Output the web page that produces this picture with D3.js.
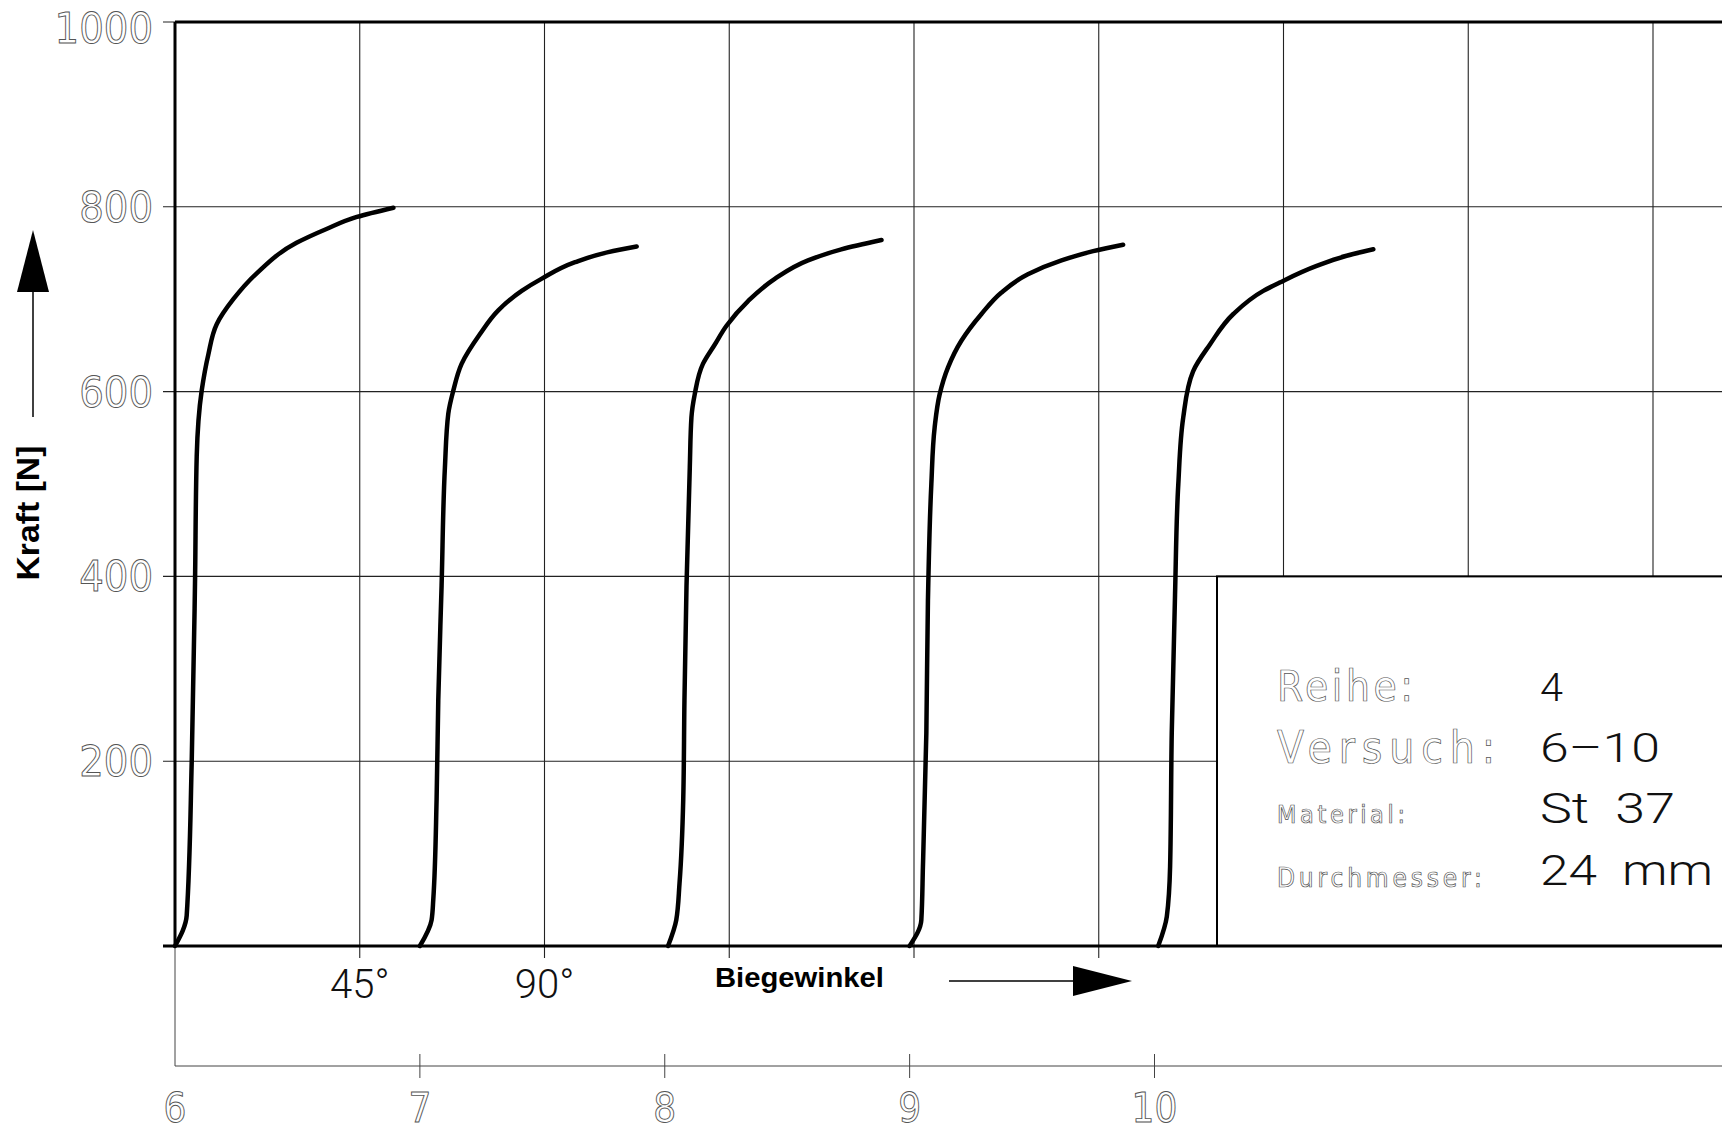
<!doctype html>
<html lang="de">
<head>
<meta charset="utf-8">
<title>Kraft / Biegewinkel – Reihe 4</title>
<script src="https://d3js.org/d3.v7.min.js"></script>
<style>
  body { margin: 0; background: #fff; }
  .plot { font-family: "Liberation Sans Narrow", "DejaVu Sans Condensed", "Liberation Sans", sans-serif; }
  .hollow { fill: #fff; stroke: #555; stroke-width: 0.9; }
  .thin { fill: #111; font-family: "Roboto", "Liberation Sans", sans-serif; font-weight: 300; }
  .bold { font-family: "Liberation Sans", Arial, sans-serif; font-weight: bold; fill: #000; }
</style>
</head>
<body>
<svg id="chart" width="1722" height="1132"></svg>
<script>
// force axis (N) and bend angle axis (deg)
const forceTicks = [200, 400, 600, 800, 1000];
const angleGrid = [45, 90, 135, 180, 225, 270, 315, 360];
const angleLabels = [45, 90];
const versuche = [6, 7, 8, 9, 10];

// each curve: [bend angle in deg measured from its Versuch tick, force in N]
const curve6 = [[0,0],[2.85,33],[4.07,199],[4.87,392],[5.29,530],[6.5,601],[8.11,640],[10.16,673],[14.2,700],[19.9,728],[29.6,761],[36.9,776],[44.3,789],[53.2,799]];
const curve7 = [[0,0],[2.85,28],[3.26,50],[4.07,158],[4.48,266],[5.29,390],[6.1,518],[6.92,576],[8.14,601],[10.16,630],[14.6,662],[19.1,688],[24.8,709],[29.6,722],[37.8,740],[45.9,751],[52.8,757]];
const curve8 = [[0.8,0],[2.8,28],[3.6,68],[4.5,158],[4.8,266],[5.3,390],[6.1,518],[6.5,572],[7.3,597],[9.3,630],[12.2,651],[15.0,671],[20.3,698],[26.8,722],[34.9,742],[43.0,754],[52.8,764]];
const curve9 = [[0,0],[2.85,28],[3.24,86],[4.07,230],[4.46,374],[5.29,500],[6.09,561],[7.31,597],[9.33,626],[12.6,655],[17.5,684],[22.3,707],[28.8,727],[37.0,742],[44.7,752],[52.0,759]];
const curve10 = [[0.9,0],[3.0,32],[3.8,86],[4.2,230],[5.0,380],[5.8,500],[7.0,572],[9.4,622],[13.5,651],[19.2,684],[26.5,709],[30.5,718],[39.5,736],[46.8,747],[53.3,754]];
const curves = [curve6, curve7, curve8, curve9, curve10];

const infoLabels = ["Reihe:", "Versuch:", "Material:", "Durchmesser:"];
const infoValues = ["4", "6–10", "St\u00a0\u00a037", "24\u00a0\u00a0mm"];

const W = 1722, H = 1132;
const svg = d3.select("#chart").attr("class", "plot");

const x = d3.scaleLinear().domain([0, 45]).range([175, 359.75]);
const y = d3.scaleLinear().domain([0, 1000]).range([946, 22]);
const xv = d3.scaleLinear().domain([6, 10]).range([175, 1154.5]);
const lowerY = 1066;
const boxLeft = 1217;

// grid
svg.append("g").selectAll("line").data(forceTicks.slice(0, 4)).join("line")
  .attr("x1", 163).attr("x2", W)
  .attr("y1", d => y(d)).attr("y2", d => y(d))
  .attr("stroke", "#222").attr("stroke-width", 1.1);
svg.append("g").selectAll("line").data(angleGrid).join("line")
  .attr("x1", d => x(d)).attr("x2", d => x(d))
  .attr("y1", y(1000))
  .attr("y2", d => x(d) < boxLeft ? y(0) + 12 : y(0))
  .attr("stroke", "#222").attr("stroke-width", 1.1);

// info box
svg.append("rect")
  .attr("x", boxLeft).attr("y", y(400))
  .attr("width", W - boxLeft + 10).attr("height", y(0) - y(400))
  .attr("fill", "#fff").attr("stroke", "#000").attr("stroke-width", 2);

// frame
svg.append("line").attr("x1", x(0)).attr("x2", W).attr("y1", y(1000)).attr("y2", y(1000))
  .attr("stroke", "#000").attr("stroke-width", 3);
svg.append("line").attr("x1", 163).attr("x2", x(0)).attr("y1", y(1000)).attr("y2", y(1000))
  .attr("stroke", "#222").attr("stroke-width", 1);
svg.append("line").attr("x1", x(0)).attr("x2", x(0)).attr("y1", y(1000)).attr("y2", y(0))
  .attr("stroke", "#000").attr("stroke-width", 3);
svg.append("line").attr("x1", 163).attr("x2", W).attr("y1", y(0)).attr("y2", y(0))
  .attr("stroke", "#000").attr("stroke-width", 3);

// lower Versuch axis
svg.append("line").attr("x1", x(0)).attr("x2", x(0)).attr("y1", y(0)).attr("y2", lowerY)
  .attr("stroke", "#444").attr("stroke-width", 1);
svg.append("line").attr("x1", xv(6)).attr("x2", W).attr("y1", lowerY).attr("y2", lowerY)
  .attr("stroke", "#444").attr("stroke-width", 1);
svg.append("g").selectAll("line").data(versuche.slice(1)).join("line")
  .attr("x1", d => xv(d)).attr("x2", d => xv(d))
  .attr("y1", lowerY - 12).attr("y2", lowerY + 12)
  .attr("stroke", "#444").attr("stroke-width", 1);
svg.append("g").selectAll("text").data(versuche).join("text")
  .attr("class", "hollow")
  .attr("x", d => xv(d)).attr("y", 1122)
  .attr("text-anchor", "middle")
  .style("font-size", "40px")
  .text(d => d);

// y labels
svg.append("g").selectAll("text").data(forceTicks).join("text")
  .attr("class", "hollow")
  .attr("x", 153).attr("y", d => y(d) + (d === 1000 ? 21 : 15))
  .attr("text-anchor", "end")
  .style("font-size", "43px")
  .text(d => d);

// angle labels
svg.append("g").selectAll("text").data(angleLabels).join("text")
  .attr("class", "thin")
  .attr("x", d => x(d)).attr("y", 998)
  .attr("text-anchor", "middle")
  .style("font-size", "40px")
  .text(d => d + "°");

// curves
const line = d3.line().curve(d3.curveMonotoneY);
svg.append("g").selectAll("path").data(curves).join("path")
  .attr("d", (c, i) => line(c.map(p => [xv(versuche[i]) + x(p[0]) - x(0), y(p[1])])))
  .attr("fill", "none").attr("stroke", "#000").attr("stroke-width", 4.5)
  .attr("stroke-linejoin", "round").attr("stroke-linecap", "round");

// axis titles
svg.append("text").attr("class", "bold")
  .attr("transform", "translate(39,513) rotate(-90)")
  .attr("text-anchor", "middle")
  .attr("textLength", 135).attr("lengthAdjust", "spacingAndGlyphs")
  .style("font-size", "31px")
  .text("Kraft [N]");
svg.append("line").attr("x1", 33).attr("x2", 33).attr("y1", 417).attr("y2", 288)
  .attr("stroke", "#000").attr("stroke-width", 1.5);
svg.append("path").attr("d", "M33,230 L17,292 L49,292 Z").attr("fill", "#000");

svg.append("text").attr("class", "bold")
  .attr("x", 715).attr("y", 987)
  .attr("textLength", 169).attr("lengthAdjust", "spacingAndGlyphs")
  .style("font-size", "28px")
  .text("Biegewinkel");
svg.append("line").attr("x1", 949).attr("x2", 1076).attr("y1", 981).attr("y2", 981)
  .attr("stroke", "#000").attr("stroke-width", 1.5);
svg.append("path").attr("d", "M1132,981 L1073,966 L1073,996 Z").attr("fill", "#000");

// info box text
const labelRows = [
  {y: 701, size: 42, len: 136},
  {y: 763, size: 44, len: 218},
  {y: 823, size: 25, len: 128},
  {y: 887, size: 26, len: 205}
];
const valueRows = [
  {y: 701, size: 38, len: 23},
  {y: 762, size: 40, len: 120},
  {y: 823, size: 42, len: 135},
  {y: 885, size: 42, len: 173}
];
svg.append("g").selectAll("text").data(infoLabels).join("text")
  .attr("class", "hollow")
  .attr("x", 1277).attr("y", (d, i) => labelRows[i].y)
  .attr("textLength", (d, i) => labelRows[i].len).attr("lengthAdjust", "spacing")
  .style("font-size", (d, i) => labelRows[i].size + "px")
  .style("stroke-width", 0.7)
  .text(d => d);
svg.append("g").selectAll("text").data(infoValues).join("text")
  .attr("class", "thin")
  .attr("x", 1540).attr("y", (d, i) => valueRows[i].y)
  .attr("textLength", (d, i) => valueRows[i].len).attr("lengthAdjust", "spacingAndGlyphs")
  .style("font-size", (d, i) => valueRows[i].size + "px")
  .text(d => d);
</script>
</body>
</html>
